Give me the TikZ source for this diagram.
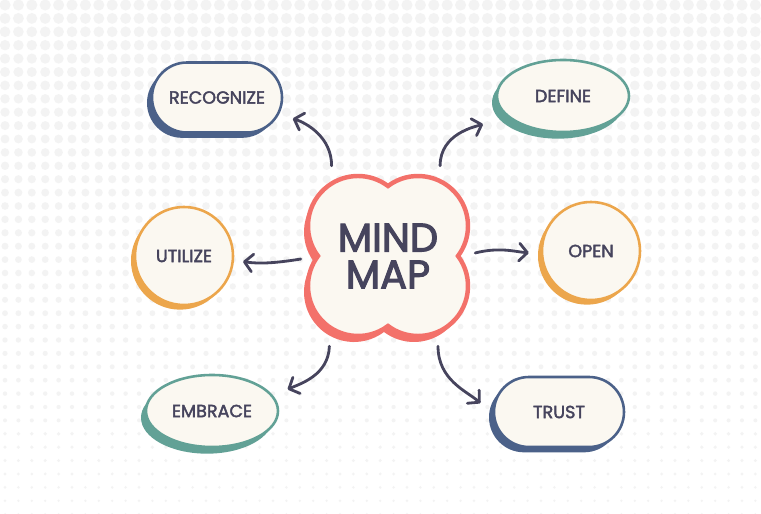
\documentclass[tikz,border=0pt]{standalone}
\usepackage{fontspec}
\setmainfont{Poppins}
\newfontfamily\heavyfont{Poppins}[FakeBold=2.2]
\newfontfamily\titlefont{Poppins}[FakeBold=2.8]
\usepackage{tikz}
\usetikzlibrary{arrows.meta,positioning,shapes.geometric,shapes.misc,shadows}

\definecolor{ink}{HTML}{46445D}
\definecolor{cream}{HTML}{FBF8F1}
\definecolor{coral}{HTML}{F3716A}
\definecolor{navy}{HTML}{4B6189}
\definecolor{teal}{HTML}{62A196}
\definecolor{amber}{HTML}{ECA64C}
\definecolor{dotc}{HTML}{F3F3F3}

\newcommand{\mindblob}{(0,2.1) arc[start angle=126.87,end angle=-36.87,radius=1.5]
  arc[start angle=36.87,end angle=-126.87,radius=1.5]
  arc[start angle=-53.13,end angle=-216.87,radius=1.5]
  arc[start angle=216.87,end angle=53.13,radius=1.5] -- cycle}

\begin{document}
\begin{tikzpicture}[>={Straight Barb[length=7pt,width=15pt,round]},node distance=5cm,on grid]
\tikzstyle{sat} = [fill=cream,text=ink,inner sep=0pt,line width=2.2pt,font=\heavyfont\fontsize{15}{18}\selectfont]
\tikzstyle{pill} = [sat,rounded rectangle,draw=navy,minimum width=3.9cm,minimum height=2.1cm,
  drop shadow={shadow xshift=-0.15cm,shadow yshift=-0.16cm,fill=navy,opacity=1}]
\tikzstyle{oval} = [sat,ellipse,draw=teal,minimum width=3.96cm,minimum height=2.16cm,
  drop shadow={shadow xshift=-0.15cm,shadow yshift=-0.2cm,fill=teal,opacity=1}]
\tikzstyle{disc} = [sat,circle,draw=amber,minimum size=2.94cm,
  drop shadow={shadow xshift=-0.12cm,shadow yshift=-0.14cm,fill=amber,opacity=1}]
    \useasboundingbox (-11.64,-7.74) rectangle (11.19,7.68);
    \fill[white] (-11.64,-7.74) rectangle (11.19,7.68);
    % dotted backdrop
    \foreach \i in {0,...,56}
      \foreach \j in {0,...,38}
        \fill[dotc] ({(5+13.4*\i-388)*0.03},{(251-13.4*\j)*0.03})
          circle[radius={(5.6-4.4*(5+13.4*\j)/514)*0.03}];

    \fill[coral,shift={(-0.12,-0.18)}] \mindblob;
    \draw[coral,line width=3.8pt,fill=cream] \mindblob;
    \node[minimum width=5.22cm,minimum height=5.4cm,align=center,text=ink,
      font=\titlefont\fontsize{34}{31.5}\selectfont] (mind) at (0,0) {MIND\\MAP};

    \node[pill] (recog) [above left=4.755cm and 5.13cm of mind] {RECOGNIZE};
    \node[oval] (define) [above right=4.8cm and 5.25cm of mind] {DEFINE};
    \node[disc] (utilize) [left=6.12cm of mind] {UTILIZE};
    \node[disc] (open) [above right=0.15cm and 6.09cm of mind] {OPEN};
    \node[oval] (embrace) [below left=4.65cm and 5.28cm of mind] {EMBRACE};
    \node[pill] (trust) [below right=4.68cm and 5.13cm of mind] {TRUST};

    \tikzset{link/.style={->,draw=ink,line width=2.4pt,line cap=round,shorten >=#1}}
    \draw (mind.122) edge [link=0.43cm,out=90,in=-18] (recog.-15);
    \draw (mind.60) edge [link=0.75cm,out=90,in=198] (define.200);
    \draw (mind.182.6) edge [link=0.27cm,out=189,in=-8] (utilize.-5);
    \draw (mind.2) edge [link=0.36cm,out=14,in=176] (open.183);
    \draw (mind.237.8) edge [link=0.47cm,out=-92,in=24] (embrace.14);
    \draw (mind.-61.2) edge [link=0.5cm,out=-90,in=138] (trust.182);
\end{tikzpicture}
\end{document}
